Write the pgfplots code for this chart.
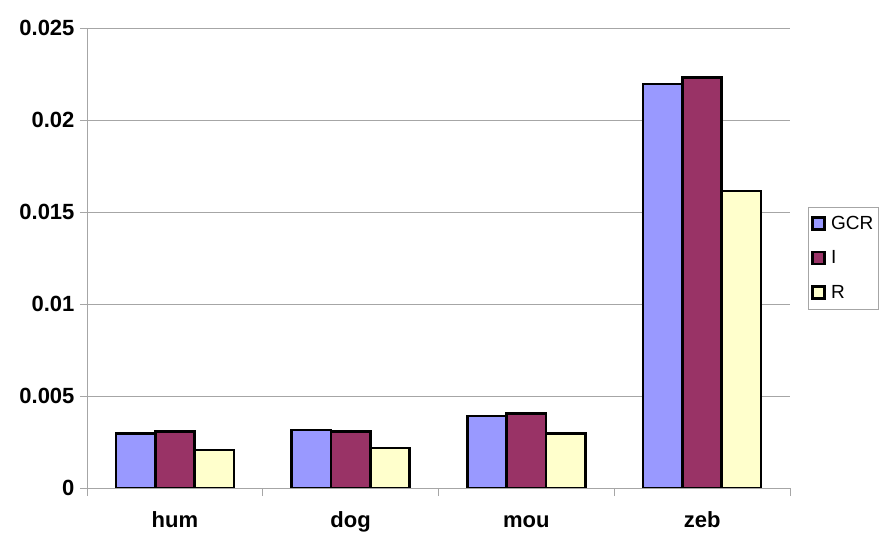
\documentclass[border=0pt]{standalone}
\usepackage{pgfplots}
\pgfplotsset{compat=1.18}
\usepackage{fontspec}
\setmainfont{Liberation Sans}
\definecolor{cgcr}{HTML}{9999FF}
\definecolor{ci}{HTML}{993366}
\definecolor{cr}{HTML}{FFFFCC}
\definecolor{gridg}{HTML}{A6A6A6}
\pgfplotsset{sqlegend/.style={legend image code/.code={\draw[##1,draw=black,line width=2.6pt] (0pt,-6pt) rectangle (12pt,6pt); \path (15pt,0pt);}}}
\begin{document}
\begin{tikzpicture}
\begin{axis}[
  name=ax, at={(0,0)}, anchor=south west,
  scale only axis, width=703pt, height=460pt,
  xmin=-0.5, xmax=3.5, ymin=0, ymax=0.025,
  ybar=0pt, bar width=39.3pt,
  scaled y ticks=false,
  axis x line*=bottom, axis y line*=left,
  axis line style={draw=gridg, line width=0.8pt, -},
  xtick={0,1,2,3}, xticklabels={hum,dog,mou,zeb},
  minor xtick={-0.5,0.5,1.5,2.5,3.5},
  major x tick style={draw=none},
  minor tick length=8pt,
  minor x tick style={draw=gridg, line width=0.8pt},
  ytick={0,0.005,0.01,0.015,0.02,0.025},
  yticklabels={0,0.005,0.01,0.015,0.02,0.025},
  major tick length=7pt,
  tick align=outside,
  y tick style={draw=gridg, line width=0.8pt},
  ymajorgrids, grid style={draw=gridg, line width=0.8pt},
  tick label style={font=\bfseries\fontsize{22}{26}\selectfont},
  xticklabel style={yshift=-13pt, text height=16pt, text depth=5pt},
  yticklabel style={xshift=-2pt},
  legend style={at={(1,0.5)}, anchor=west, xshift=18pt, draw=gridg, line width=0.8pt,
     font=\fontsize{19}{22}\selectfont, row sep=16pt, inner xsep=3pt, inner ysep=7pt,
     legend cell align=left},
]
\addplot[fill=cgcr, draw=black, line width=2.6pt, sqlegend] coordinates {(0,0.00297) (1,0.00316) (2,0.00391) (3,0.02196)};
\addplot[fill=ci, draw=black, line width=2.6pt, sqlegend] coordinates {(0,0.00306) (1,0.00306) (2,0.00405) (3,0.02232)};
\addplot[fill=cr, draw=black, line width=2.6pt, sqlegend] coordinates {(0,0.00207) (1,0.00217) (2,0.00295) (3,0.01614)};
\legend{GCR,I,R}
\end{axis}
\path (ax.south west) ++(-87pt,-58pt) rectangle ++(889pt,546pt);
\end{tikzpicture}
\end{document}
